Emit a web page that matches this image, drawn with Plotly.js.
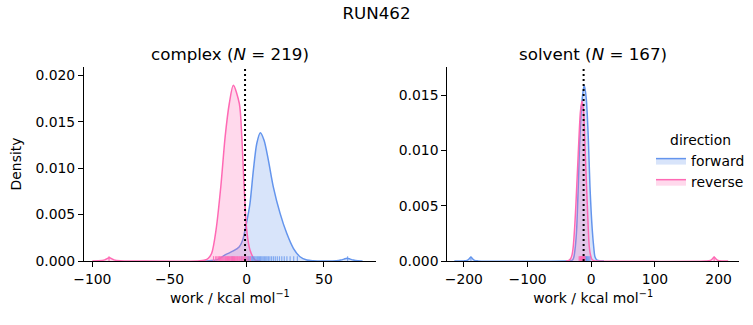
<!DOCTYPE html>
<html><head><meta charset="utf-8">
<script src="https://cdn.plot.ly/plotly-3.0.1.min.js"></script>
<style>html,body{margin:0;padding:0;background:#fff}</style>
</head><body><div id="chart" style="width:753px;height:325px"></div>
<script>
// ---- data ----
const panelNames = ['complex', 'solvent'];
const panelN = [219, 167];
const directions = ['forward', 'reverse'];
const dgLines = [-1.1, -12.0];

// complex, forward KDE
const complexFwdX = [-30, -24, -19, -14.05, -8.7, -4.8, -2.6, -1.1, 0.65, 2.1, 4.3, 6.5, 8.8, 11.2, 14, 17.2, 21.6, 25.9, 30.2, 34.5, 38.9, 43, 50, 58, 61, 63, 65, 67, 69, 72, 75];
const complexFwdY = [0, 0.00004, 0.00014, 0.00065, 0.00108, 0.00154, 0.00226, 0.00333, 0.00477, 0.0062, 0.00978, 0.01265, 0.0138, 0.0130, 0.01086, 0.00799, 0.00513, 0.00298, 0.00137, 0.00046, 0.0001, 0.00002, 0, 0.00002, 0.0001, 0.0002, 0.0003, 0.0002, 0.0001, 0.00002, 0];
// complex, reverse KDE
const complexRevX = [-100, -96, -92, -89, -86, -82, -70, -32, -27, -24.9, -22.7, -19.9, -16.8, -14, -11.3, -8.7, -4.8, -3.2, -1.7, 0, 2.1, 5.4, 9];
const complexRevY = [0, 0.00002, 0.00012, 0.00035, 0.00012, 0.00002, 0, 0.00001, 0.0001, 0.0003, 0.00083, 0.00333, 0.00799, 0.01337, 0.01696, 0.01892, 0.01696, 0.01337, 0.00799, 0.00333, 0.00118, 0.00011, 0];
// solvent, forward KDE
const solventFwdX = [-215, -200, -195, -192, -189, -186, -183, -178, -40, -33, -29, -27.2, -25, -23, -20.4, -17.8, -14, -11, -8, -4.7, -2, 1.6, 4, 5.8, 9, 14, 20];
const solventFwdY = [0, 0.00001, 0.00005, 0.00018, 0.00035, 0.00018, 0.00005, 0.00001, 0, 0.00002, 0.00012, 0.00039, 0.0013, 0.0028, 0.00671, 0.01123, 0.0148, 0.0159, 0.0148, 0.01123, 0.00671, 0.0028, 0.0012, 0.00039, 0.00008, 0.00001, 0];
// solvent, reverse KDE
const solventRevX = [-40, -36, -32.4, -30, -28.3, -26, -24, -20.4, -17, -14.6, -12, -9.4, -6.3, -4.5, -3.1, -1, 0.6, 4, 10, 180, 187, 190, 193, 196, 199, 205, 215];
const solventRevY = [0, 0.00003, 0.0002, 0.0006, 0.00129, 0.0031, 0.00521, 0.00973, 0.0135, 0.01448, 0.0135, 0.00973, 0.00521, 0.0027, 0.00129, 0.0005, 0.0002, 0.00003, 0, 0, 0.00005, 0.00018, 0.00035, 0.00018, 0.00005, 0, 0];

// rug samples (work values)
const complexFwdRug = [-9.5, -3.2, -1.0, 0.3, 1.2, 2.0, 2.9, 3.7, 4.5, 5.2, 6.0, 6.8, 7.5, 8.3, 9.0, 9.8, 10.6, 11.4, 12.3, 13.1, 14.0, 15.0, 16.1, 17.3, 18.5, 19.8, 21.2, 22.7, 24.3, 26.0, 28.1, 30.4, 32.8, 65.3];
const complexRevRug = [-89.2, -21.5, -20.1, -19.3, -18.4, -17.6, -16.9, -16.2, -15.5, -14.8, -14.1, -13.6, -13.0, -12.4, -11.9, -11.3, -10.8, -10.2, -9.7, -9.1, -8.6, -8.0, -7.5, -6.9, -6.3, -5.8, -5.1, -4.5, -3.8, -3.0, -2.2, -1.3, -0.4, 0.8, 2.3];
const solventFwdRug = [-189.0, -13.8, -12.4, -11.5, -10.6, -9.8, -9.0, -8.2, -7.3, -6.4, -5.2, -3.8, -2.0];
const solventRevRug = [-19.0, -17.8, -16.9, -16.1, -15.4, -14.7, -14.0, -13.3, -12.6, -11.8, -10.9, -9.8, 193.0];

// ---- styling ----
const colors = {forward: '#6495ED', reverse: '#FF69B4'};
const fills = {forward: 'rgba(100,149,237,0.25)', reverse: 'rgba(255,105,180,0.25)'};
const rugCols = {forward: 'rgba(100,149,237,0.75)', reverse: 'rgba(255,105,180,0.9)'};
const FONT = 'DejaVu Sans, Liberation Sans, sans-serif';
const RUG_H = 0.025;

function kde(x, y, dir, xa, ya) {
  return {type: 'scatter', mode: 'lines', x: x, y: y, xaxis: xa, yaxis: ya,
    name: dir, legendgroup: dir, showlegend: false,
    fill: 'tozeroy', fillcolor: fills[dir],
    line: {color: colors[dir], width: 1.5, shape: 'spline', smoothing: 0.8},
    hoverinfo: 'x+y'};
}
function legendEntry(dir) {
  return {type: 'scatter', mode: 'lines', x: [null], y: [null], xaxis: 'x', yaxis: 'y',
    name: dir, legendgroup: dir, showlegend: true, fill: 'toself', fillcolor: fills[dir],
    line: {color: colors[dir], width: 1.5}};
}
function rug(vals, dir, xa, ya) {
  const xs = [], ys = [];
  vals.forEach(v => { xs.push(v, v, null); ys.push(0, RUG_H, null); });
  return {type: 'scatter', mode: 'lines', x: xs, y: ys, xaxis: xa, yaxis: ya,
    showlegend: false, hoverinfo: 'skip', line: {color: rugCols[dir], width: 1.2}};
}

const data = [
  kde(complexFwdX, complexFwdY, 'forward', 'x', 'y'),
  kde(complexRevX, complexRevY, 'reverse', 'x', 'y'),
  kde(solventFwdX, solventFwdY, 'forward', 'x2', 'y2'),
  kde(solventRevX, solventRevY, 'reverse', 'x2', 'y2'),
  legendEntry(directions[0]),
  legendEntry(directions[1]),
  rug(complexFwdRug, 'forward', 'x', 'y3'),
  rug(complexRevRug, 'reverse', 'x', 'y3'),
  rug(solventFwdRug, 'forward', 'x2', 'y4'),
  rug(solventRevRug, 'reverse', 'x2', 'y4')
];

const axCommon = {showline: true, linecolor: 'black', linewidth: 1, mirror: false,
  ticks: 'outside', ticklen: 5, tickwidth: 1, tickcolor: 'black',
  showgrid: false, zeroline: false, tickfont: {family: FONT, size: 13.9, color: 'black'}};
const xTitle = {text: 'work / kcal mol<sup>−1</sup>', font: {family: FONT, size: 13.9, color: 'black'}, standoff: 7};

const layout = {
  width: 753, height: 325,
  margin: {l: 84, r: 14, t: 67, b: 64, autoexpand: false},
  paper_bgcolor: 'white', plot_bgcolor: 'rgba(0,0,0,0)',
  font: {family: FONT, color: 'black'},
  title: {text: 'RUN462', x: 0.5, xref: 'container', y: 1 - 13/325, yref: 'container', yanchor: 'middle',
    font: {family: FONT, size: 16.7, color: 'black'}},
  xaxis: Object.assign({}, axCommon, {domain: [0, 0.4453], range: [-105.4, 83.5], tickvals: [-100, -50, 0, 50], anchor: 'y', title: xTitle}),
  yaxis: Object.assign({}, axCommon, {domain: [0, 1], range: [0, 0.02089], dtick: 0.005, tick0: 0, tickformat: '.3f', anchor: 'x',
    title: {text: 'Density', font: {family: FONT, size: 13.9, color: 'black'}, standoff: 10}}),
  xaxis2: Object.assign({}, axCommon, {domain: [0.5547, 1], range: [-226, 232], tickvals: [-200, -100, 0, 100, 200], anchor: 'y2', title: xTitle}),
  yaxis2: Object.assign({}, axCommon, {domain: [0, 1], range: [0, 0.01755], dtick: 0.005, tick0: 0, tickformat: '.3f', anchor: 'x2'}),
  yaxis3: {overlaying: 'y', anchor: 'x', range: [0, 1], visible: false, fixedrange: true},
  yaxis4: {overlaying: 'y2', anchor: 'x2', range: [0, 1], visible: false, fixedrange: true},
  shapes: [
    {type: 'line', xref: 'x', yref: 'y domain', x0: dgLines[0], x1: dgLines[0], y0: 0, y1: 1, line: {color: 'black', width: 2, dash: '2px,3px'}},
    {type: 'line', xref: 'x2', yref: 'y2 domain', x0: dgLines[1], x1: dgLines[1], y0: 0, y1: 1, line: {color: 'black', width: 2, dash: '2px,3px'}}
  ],
  annotations: [
    {text: panelNames[0] + ' (<i>N</i> = ' + panelN[0] + ')', xref: 'paper', yref: 'paper', x: 0.2227, y: 1, xanchor: 'center', yanchor: 'middle', yshift: 13, showarrow: false, font: {family: FONT, size: 16.7, color: 'black'}},
    {text: panelNames[1] + ' (<i>N</i> = ' + panelN[1] + ')', xref: 'paper', yref: 'paper', x: 0.7774, y: 1, xanchor: 'center', yanchor: 'middle', yshift: 13, showarrow: false, font: {family: FONT, size: 16.7, color: 'black'}}
  ],
  legend: {x: (651 - 84) / 655, xanchor: 'left', y: 1 - (127 - 67) / 194, yanchor: 'top',
    bgcolor: 'rgba(0,0,0,0)', borderwidth: 0, traceorder: 'normal',
    font: {family: FONT, size: 13.9, color: 'black'},
    title: {text: 'direction', side: 'top center', font: {family: FONT, size: 13.9, color: 'black'}},
    itemwidth: 30, tracegroupgap: 0}
};

Plotly.newPlot('chart', data, layout, {staticPlot: true, displayModeBar: false});
</script></body></html>
